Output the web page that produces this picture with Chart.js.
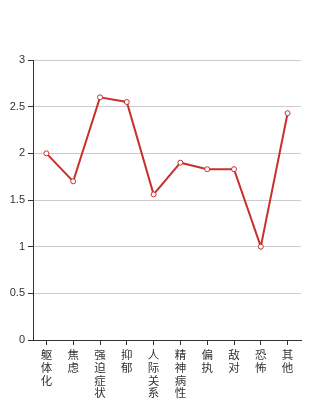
<!DOCTYPE html>
<html>
<head>
<meta charset="utf-8">
<script src="https://cdn.jsdelivr.net/npm/chart.js@4/dist/chart.umd.min.js"></script>
<style>
  html, body { margin: 0; padding: 0; background: #fff; overflow: hidden; }
  #wrap { width: 334px; height: 400px; }
</style>
</head>
<body>
<div id="wrap"><canvas id="factorChart"></canvas></div>
<script>
// factor scores
const factors = ['躯体化', '焦虑', '强迫症状', '抑郁', '人际关系', '精神病性', '偏执', '敌对', '恐怖', '其他'];
const scores = [2.0, 1.7, 2.6, 2.55, 1.56, 1.9, 1.83, 1.83, 1.0, 2.43];
const yTicks = [0, 0.5, 1, 1.5, 2, 2.5, 3];

// vertical text: one character per line
const labels = factors.map(f => f.split(''));

const ctx = document.getElementById('factorChart').getContext('2d');
new Chart(ctx, {
  type: 'line',
  data: {
    labels: labels,
    datasets: [{
      label: '因子分',
      data: scores,
      borderColor: '#c9302c',
      borderWidth: 2,
      backgroundColor: '#fff',
      pointBackgroundColor: '#fff',
      pointBorderColor: '#c9302c',
      pointBorderWidth: 1,
      pointRadius: 2.5,
      tension: 0,
      fill: false
    }]
  },
  options: {
    responsive: true,
    maintainAspectRatio: false,
    animation: false,
    layout: { padding: { top: 60, right: 33, left: 0, bottom: 0 } },
    plugins: { legend: { display: false }, tooltip: { enabled: false } },
    scales: {
      x: {
        offset: true,
        afterFit: axis => { axis.height = 60; },
        grid: { drawOnChartArea: false, drawTicks: true, tickLength: 5, tickColor: '#333' },
        border: { color: '#333', width: 1 },
        ticks: {
          color: '#333', maxRotation: 0, minRotation: 0, autoSkip: false, padding: 3,
          font: { family: '"Noto Sans CJK SC", sans-serif', size: 11.5, lineHeight: 1.12 }
        }
      },
      y: {
        min: yTicks[0],
        max: yTicks[yTicks.length - 1],
        afterBuildTicks: axis => { axis.ticks = yTicks.map(v => ({ value: v })); },
        afterFit: axis => { axis.width = 33; },
        grid: { color: '#cccccc', tickLength: 5, tickColor: '#333' },
        border: { color: '#333', width: 1 },
        ticks: {
          color: '#333', padding: 3,
          callback: v => String(v),
          font: { family: '"Liberation Sans", Arial, sans-serif', size: 11 }
        }
      }
    }
  }
});
</script>
</body>
</html>
